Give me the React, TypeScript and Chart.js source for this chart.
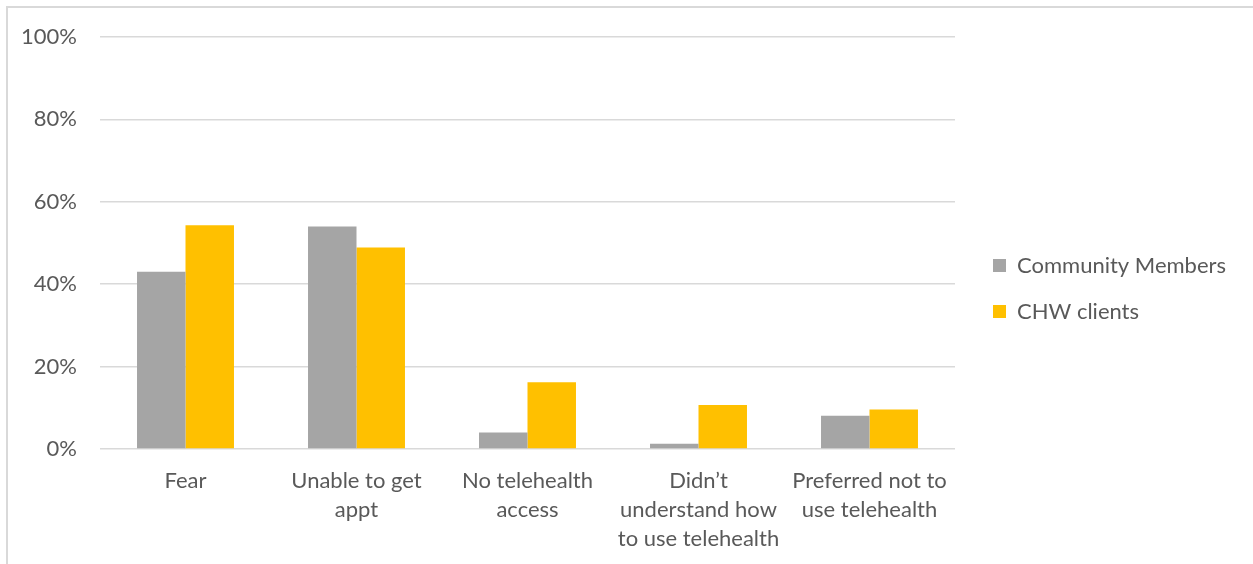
import React, { useEffect, useRef } from "react";
import { Chart, registerables } from "chart.js";

Chart.register(...registerables);

const categories: (string | string[])[] = [
  "Fear",
  ["Unable to get", "appt"],
  ["No telehealth", "access"],
  ["Didn\u2019t", "understand how", "to use telehealth"],
  ["Preferred not to", "use telehealth"],
];
const communityMembers = [43.0, 54.0, 4.0, 1.3, 8.1];
const chwClients = [54.3, 48.9, 16.2, 10.7, 9.6];
const seriesNames = ["Community Members", "CHW clients"];
const seriesColors = ["#a5a5a5", "#ffc000"];
const yMin = 0;
const yMax = 100;
const yStep = 20;

export default function App() {
  const ref = useRef<HTMLCanvasElement>(null);

  useEffect(() => {
    const canvas = ref.current;
    if (!canvas) return;
    const W = 1253;
    const H = 564;
    const FONT = "Lato";
    const FS = 22;
    const TEXT = "#595959";
    const ctx = canvas.getContext("2d")!;
    ctx.font = `${FS}px ${FONT}`;
    const maxText = Math.max(...seriesNames.map((s) => ctx.measureText(s).width));
    const legendPad = 24;
    const boxW = 13;
    const legendW = legendPad + boxW + FS / 2 + maxText + 10;
    const plotRight = 955;
    const padRight = Math.max(0, W - plotRight - legendW);

    const legendShift = {
      id: "legendShift",
      afterLayout(chart: any) {
        const lg = chart.legend;
        if (!lg) return;
        const dx = 993 - (lg.left + legendPad);
        lg.left += dx;
        lg.right += dx;
        lg.top -= 12;
        lg.bottom -= 12;
      },
    };

    const chart = new Chart(canvas, {
      type: "bar",
      data: {
        labels: categories,
        datasets: [
          {
            label: seriesNames[0],
            data: communityMembers,
            backgroundColor: seriesColors[0],
            borderWidth: 0,
          },
          {
            label: seriesNames[1],
            data: chwClients,
            backgroundColor: seriesColors[1],
            borderWidth: 0,
          },
        ],
      },
      options: {
        animation: false,
        responsive: false,
        devicePixelRatio: 1,
        layout: { padding: { top: 37, left: 0, right: padRight, bottom: 0 } },
        datasets: {
          bar: { categoryPercentage: 0.567, barPercentage: 1 },
        },
        plugins: {
          legend: {
            position: "right",
            align: "center",
            labels: {
              boxWidth: boxW,
              boxHeight: boxW,
              padding: legendPad,
              color: TEXT,
              font: { family: FONT, size: FS },
            },
          },
          tooltip: { enabled: false },
          title: { display: false },
        },
        scales: {
          x: {
            grid: { display: false, drawTicks: false },
            border: { display: false },
            ticks: {
              color: TEXT,
              padding: 18,
              maxRotation: 0,
              autoSkip: false,
              font: { family: FONT, size: FS, lineHeight: 1.3 },
            },
            afterFit: (s: any) => {
              s.height = 115;
            },
          },
          y: {
            min: yMin,
            max: yMax,
            grid: { color: "#d9d9d9", lineWidth: 1.5, drawTicks: false },
            border: { display: false },
            ticks: {
              stepSize: yStep,
              color: TEXT,
              padding: 23,
              font: { family: FONT, size: FS },
              callback: (v: any) => `${v}%`,
            },
            afterFit: (s: any) => {
              s.width = 100;
            },
          },
        },
      },
      plugins: [legendShift],
    });

    return () => chart.destroy();
  }, []);

  return (
    <div>
      <div
        style={{
          position: "fixed",
          left: 6,
          top: 6,
          width: 1300,
          height: 600,
          borderLeft: "2px solid #d9d9d9",
          borderTop: "2px solid #d9d9d9",
          background: "#ffffff",
        }}
      />
      <canvas
        ref={ref}
        width={1253}
        height={564}
        style={{ position: "fixed", left: 0, top: 0, width: 1253, height: 564 }}
      />
    </div>
  );
}
